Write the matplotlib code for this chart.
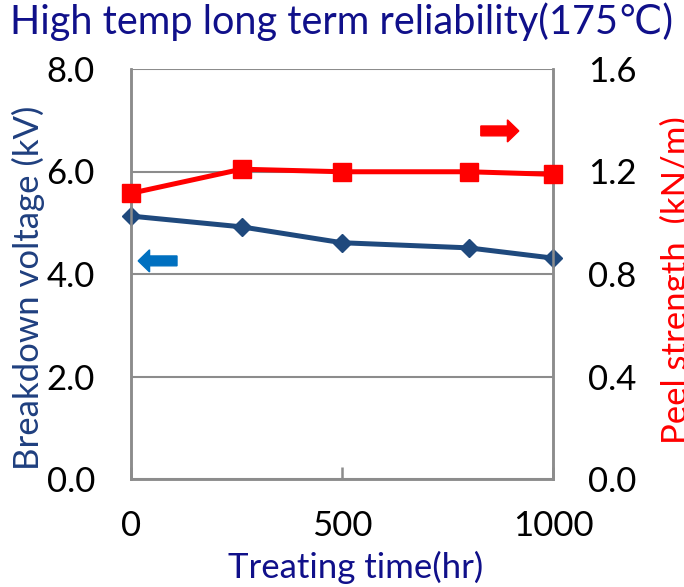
import numpy as np
import matplotlib
matplotlib.use('Agg')
import matplotlib.pyplot as plt
from matplotlib.patches import FancyArrow

plt.rcParams['font.family'] = ['Lato', 'DejaVu Sans']

# data
hours = [0, 262, 500, 800, 1000]
breakdown_kv = [5.13, 4.92, 4.61, 4.51, 4.31]
peel_kn_m = [1.115, 1.209, 1.199, 1.199, 1.189]
xticks = [0, 500, 1000]
left_ticks = [0.0, 2.0, 4.0, 6.0, 8.0]
right_ticks = [0.0, 0.4, 0.8, 1.2, 1.6]

navy = '#10108A'
blue_line = '#1F497D'
arrow_blue = '#0070C0'
red = '#FF0000'
gray = '#8C8C8C'

fig = plt.figure(figsize=(6.84, 5.87), dpi=100)
ax = fig.add_axes([131/684, 1-479/587, 422/684, 410/587])
ax2 = ax.twinx()

ax.set_xlim(0, 1000)
ax.set_ylim(0, 8)
ax2.set_ylim(0, 1.6)

ax.set_yticks(left_ticks)
ax.set_yticklabels(['%.1f' % v for v in left_ticks])
ax2.set_yticks(right_ticks)
ax2.set_yticklabels(['%.1f' % v for v in right_ticks])
ax.set_xticks(xticks)
ax.set_xticklabels([str(v) for v in xticks])

ax.grid(axis='y', color=gray, lw=1.5)
ax.set_axisbelow(True)
for a in (ax, ax2):
    for s in a.spines.values():
        s.set_color(gray)
        s.set_linewidth(1.8)
    a.spines['top'].set_visible(False)
ax.tick_params(axis='y', length=0, pad=26, labelsize=25)
ax2.tick_params(axis='y', length=0, pad=25, labelsize=25)
ax.tick_params(axis='x', direction='in', length=9, width=1.8, color=gray, pad=22, labelsize=25)

# series
ax.plot(hours, breakdown_kv, color=blue_line, lw=3.6, marker='D', ms=9, clip_on=False, zorder=3)
ax2.plot(hours, peel_kn_m, color=red, lw=3.6, marker='s', ms=13.5, clip_on=False, zorder=3)

# direction arrows
ax2.add_patch(FancyArrow(0.829, 0.849, 0.063, 0, width=0.024, head_width=0.054,
                         head_length=0.027, length_includes_head=False,
                         color=red, transform=ax.transAxes, clip_on=False))
ax2.add_patch(FancyArrow(0.109, 0.532, -0.065, 0, width=0.024, head_width=0.054,
                         head_length=0.027, length_includes_head=False,
                         color=arrow_blue, transform=ax.transAxes, clip_on=False))

fig.text(342/684, 1-22/587, 'High temp long term reliability(175℃)', color=navy,
         fontsize=28.5, ha='center', va='center')
fig.text(356/684, 1-567/587, 'Treating time(hr)', color=navy, fontsize=25,
         ha='center', va='center')
fig.text(28/684, 1-288/587, 'Breakdown voltage (kV)', color='#1F3F7F', fontsize=25,
         rotation=90, ha='center', va='center')
fig.text(676/684, 1-280/587, 'Peel strength  (kN/m)', color=red, fontsize=25,
         rotation=90, ha='center', va='center')

fig.savefig('out.png', dpi=100)
